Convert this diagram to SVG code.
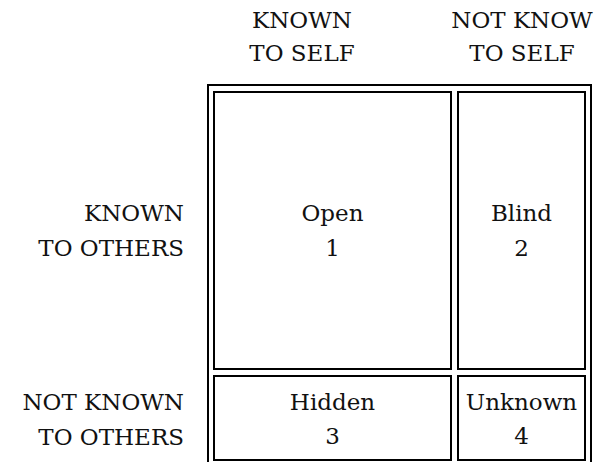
<svg xmlns="http://www.w3.org/2000/svg" width="599" height="462" viewBox="0 0 599 462">
<style>
text{font-family:"DejaVu Serif",serif;font-size:23px;fill:#111}
.c{text-anchor:middle}
.e{text-anchor:end}
rect{fill:none;stroke:#000;stroke-width:2}
</style>
<rect x="0" y="0" width="599" height="462" style="fill:#fff;stroke:none"/>
<g id="headers">
<text class="c" x="302" y="28">KNOWN</text>
<text class="c" x="302" y="61">TO SELF</text>
<text class="c" x="522" y="28">NOT KNOW</text>
<text class="c" x="522" y="61">TO SELF</text>
<text class="e" x="184" y="221">KNOWN</text>
<text class="e" x="184" y="256">TO OTHERS</text>
<text class="e" x="184" y="410">NOT KNOWN</text>
<text class="e" x="184" y="445">TO OTHERS</text>
</g>
<g id="frame"><rect x="208" y="85" width="383" height="400"/></g>
<g id="open"><rect x="214" y="92" width="237" height="277"/>
<text class="c" x="332.5" y="221">Open</text><text class="c" x="332.5" y="256">1</text></g>
<g id="blind"><rect x="458" y="92" width="127" height="277"/>
<text class="c" x="521.5" y="221">Blind</text><text class="c" x="521.5" y="256">2</text></g>
<g id="hidden"><rect x="214" y="376" width="237" height="84"/>
<text class="c" x="332.5" y="410">Hidden</text><text class="c" x="332.5" y="444">3</text></g>
<g id="unknown"><rect x="458" y="376" width="127" height="84"/>
<text class="c" x="521.5" y="410">Unknown</text><text class="c" x="521.5" y="444">4</text></g>
<g id="connectors"></g>
</svg>
